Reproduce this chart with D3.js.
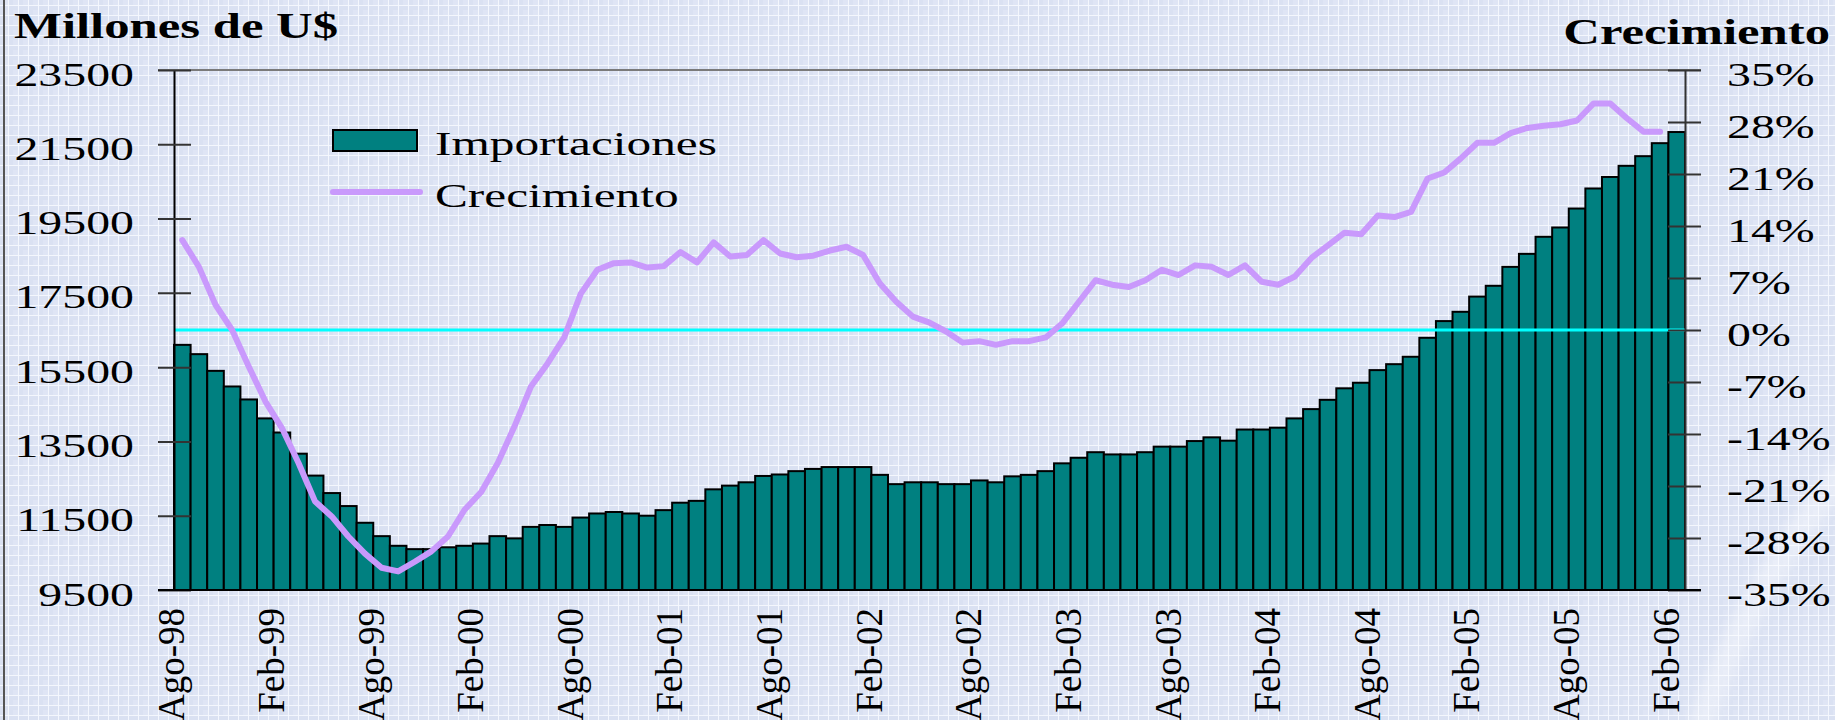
<!DOCTYPE html>
<html>
<head>
<meta charset="utf-8">
<script src="https://cdn.jsdelivr.net/npm/d3@7"></script>
<style>
  html, body { margin: 0; padding: 0; background: #dae1f2; }
  svg { display: block; }
  text { font-family: "Liberation Serif", "Times New Roman", serif; fill: #000; }
</style>
</head>
<body>
<svg id="chart" width="1835" height="720"></svg>
<script>
// months Ago-98 .. Feb-06 (monthly)
const monthNames = ["Ene","Feb","Mar","Abr","May","Jun","Jul","Ago","Sep","Oct","Nov","Dic"];
const months = [];
for (let k = 0; k < 91; k++) {
  const m = (7 + k) % 12;
  const yr = 1998 + Math.floor((7 + k) / 12);
  months.push(monthNames[m] + "-" + String(yr).slice(2));
}

// Importaciones, millones de U$
const imports = [
  16100, 15850, 15400, 14980, 14630, 14120, 13740, 13170, 12580, 12110,
  11760, 11310, 10950, 10690, 10600, 10600, 10650, 10690, 10750, 10950,
  10890, 11200, 11250, 11200, 11450, 11560, 11600, 11560, 11500, 11650,
  11850, 11900, 12210, 12310, 12400, 12570, 12610, 12700, 12760, 12810,
  12810, 12810, 12600, 12350, 12400, 12400, 12350, 12350, 12450, 12400,
  12560, 12600, 12700, 12910, 13060, 13210, 13150, 13150, 13210, 13360,
  13360, 13510, 13610, 13520, 13820, 13820, 13870, 14120, 14370, 14620,
  14930, 15080, 15420, 15580, 15780, 16290, 16740, 16990, 17400, 17690,
  18200, 18550, 19010, 19260, 19770, 20310, 20620, 20920, 21180, 21530,
  21830
];

// Crecimiento, % (no value for the last month)
const growth = [
  12.1, 8.5, 3.4, 0.0, -4.9, -9.6, -13.2, -17.9, -23.1, -25.1,
  -27.8, -30.1, -32.0, -32.5, -31.2, -29.8, -27.8, -24.2, -21.8, -17.9,
  -13.0, -7.6, -4.5, -1.0, 4.9, 8.1, 9.0, 9.1, 8.4, 8.6,
  10.5, 9.1, 11.8, 9.9, 10.1, 12.1, 10.3, 9.8, 10.0, 10.7,
  11.2, 10.1, 6.3, 3.8, 1.8, 1.0, -0.2, -1.7, -1.5, -2.0,
  -1.5, -1.5, -1.0, 0.9, 3.8, 6.7, 6.1, 5.8, 6.7, 8.1,
  7.4, 8.7, 8.5, 7.4, 8.7, 6.5, 6.1, 7.2, 9.7, 11.4,
  13.1, 12.9, 15.4, 15.2, 15.9, 20.4, 21.2, 23.1, 25.2, 25.2,
  26.5, 27.2, 27.5, 27.7, 28.2, 30.5, 30.5, 28.5, 26.7, 26.7,
  null
];

const leftTicks = [9500, 11500, 13500, 15500, 17500, 19500, 21500, 23500];
const rightTicks = [-35, -28, -21, -14, -7, 0, 7, 14, 21, 28, 35];
const xLabels = ["Ago-98","Feb-99","Ago-99","Feb-00","Ago-00","Feb-01","Ago-01","Feb-02",
                 "Ago-02","Feb-03","Ago-03","Feb-04","Ago-04","Feb-05","Ago-05","Feb-06"];

const svg = d3.select("#chart");
const plotLeft = 174, plotRight = 1685, plotTop = 70, plotBottom = 590;
const stretch = 1.45;  // horizontal text is widened in the original

// background grid
const defs = svg.append("defs");
const pat = defs.append("pattern")
  .attr("id", "grid").attr("width", 10).attr("height", 10)
  .attr("patternUnits", "userSpaceOnUse").attr("x", 8).attr("y", 5);
pat.append("rect").attr("width", 10).attr("height", 10).attr("fill", "#dae1f2");
pat.append("rect").attr("x", 5).attr("y", 5).attr("width", 5).attr("height", 5).attr("fill", "#dfe5f5");
pat.append("path").attr("d", "M0,0.5H10M0.5,0V10").attr("stroke", "#f4f7fd").attr("stroke-width", 1);
defs.append("filter").attr("id", "soft").append("feGaussianBlur").attr("stdDeviation", 6);

svg.append("rect").attr("width", 1835).attr("height", 720).attr("fill", "url(#grid)");
svg.append("path")
  .attr("d", "M1700,730 Q1740,600 1845,470")
  .attr("fill", "none").attr("stroke", "#ffffff").attr("stroke-width", 26)
  .attr("opacity", 0.35).attr("filter", "url(#soft)");
svg.append("line").attr("x1", 4).attr("x2", 4).attr("y1", 0).attr("y2", 720)
  .attr("stroke", "#555").attr("stroke-width", 2);

const x = d3.scaleBand().domain(months).range([plotLeft, plotRight]).padding(0);
const yL = d3.scaleLinear().domain([9500, 23500]).range([plotBottom, plotTop]);
const yR = d3.scaleLinear().domain([-35, 35]).range([plotBottom, plotTop]);

// top border
svg.append("line").attr("x1", plotLeft - 16).attr("x2", plotRight + 16)
  .attr("y1", plotTop).attr("y2", plotTop).attr("stroke", "#7a7a7a").attr("stroke-width", 2);

// bars
svg.append("g").selectAll("rect")
  .data(imports)
  .enter()
  .append("rect")
  .attr("x", (d, i) => x(months[i]))
  .attr("y", d => yL(d))
  .attr("width", x.bandwidth())
  .attr("height", d => yL(9500) - yL(d))
  .attr("fill", "#008080")
  .attr("stroke", "#000")
  .attr("stroke-width", 2);

// zero growth line
svg.append("line")
  .attr("x1", plotLeft).attr("x2", plotRight)
  .attr("y1", yR(0)).attr("y2", yR(0))
  .attr("stroke", "#00ffff").attr("stroke-width", 3);

// growth line
const line = d3.line()
  .defined(d => d != null)
  .x((d, i) => x(months[i]) + x.bandwidth() / 2)
  .y(d => yR(d));
svg.append("path")
  .datum(growth)
  .attr("d", line)
  .attr("fill", "none")
  .attr("stroke", "#c999fc")
  .attr("stroke-width", 6)
  .attr("stroke-linejoin", "round")
  .attr("stroke-linecap", "round");

// left axis
const gL = svg.append("g").attr("transform", `translate(${plotLeft},0)`)
  .call(d3.axisLeft(yL).tickValues(leftTicks).tickSizeOuter(0).tickFormat(d3.format("d")));
gL.select(".domain").attr("stroke", "#000").attr("stroke-width", 2);
gL.selectAll(".tick line").attr("x1", -16).attr("x2", 17).attr("stroke", "#333").attr("stroke-width", 2);
gL.selectAll(".tick text")
  .attr("x", null).attr("dy", null).attr("y", null)
  .attr("text-anchor", "end")
  .attr("font-size", 33)
  .attr("font-family", null)
  .attr("fill", "#000")
  .attr("transform", `translate(-40,15) scale(${stretch},1)`);

// right axis
const gR = svg.append("g").attr("transform", `translate(${plotRight},0)`)
  .call(d3.axisRight(yR).tickValues(rightTicks).tickSizeOuter(0).tickFormat(d => d + "%"));
gR.select(".domain").attr("stroke", "#333").attr("stroke-width", 2);
gR.selectAll(".tick line").attr("x1", -17).attr("x2", 16).attr("stroke", "#333").attr("stroke-width", 2);
gR.selectAll(".tick text")
  .attr("x", null).attr("dy", null).attr("y", null)
  .attr("text-anchor", "start")
  .attr("font-size", 33)
  .attr("font-family", null)
  .attr("fill", "#000")
  .attr("transform", `translate(42,15) scale(${stretch},1)`);

// bottom axis
const gB = svg.append("g").attr("transform", `translate(0,${plotBottom})`)
  .call(d3.axisBottom(x).tickValues(xLabels).tickSize(0).tickSizeOuter(0));
gB.select(".domain").remove();
gB.selectAll(".tick text")
  .attr("x", null).attr("dy", null).attr("y", null)
  .attr("text-anchor", "end")
  .attr("font-size", 37)
  .attr("font-family", null)
  .attr("fill", "#000")
  .attr("transform", "translate(2,18) rotate(-90)");
svg.append("line").attr("x1", plotLeft - 16).attr("x2", plotRight + 16)
  .attr("y1", plotBottom).attr("y2", plotBottom).attr("stroke", "#000").attr("stroke-width", 2);

// axis titles
svg.append("text")
  .attr("transform", `translate(14,38) scale(${stretch},1)`)
  .attr("font-size", 35).attr("font-weight", "bold")
  .text("Millones de U$");
svg.append("text")
  .attr("transform", `translate(1830,44) scale(${stretch},1)`)
  .attr("text-anchor", "end")
  .attr("font-size", 35).attr("font-weight", "bold")
  .text("Crecimiento");

// legend
const legend = svg.append("g");
legend.append("rect").attr("x", 333).attr("y", 130).attr("width", 84).attr("height", 21)
  .attr("fill", "#008080").attr("stroke", "#000").attr("stroke-width", 2);
legend.append("text").attr("transform", `translate(435,155) scale(${stretch},1)`)
  .attr("font-size", 34).text("Importaciones");
legend.append("line").attr("x1", 333).attr("x2", 420).attr("y1", 192).attr("y2", 192)
  .attr("stroke", "#c999fc").attr("stroke-width", 6).attr("stroke-linecap", "round");
legend.append("text").attr("transform", `translate(435,207) scale(${stretch},1)`)
  .attr("font-size", 34).text("Crecimiento");
</script>
</body>
</html>
